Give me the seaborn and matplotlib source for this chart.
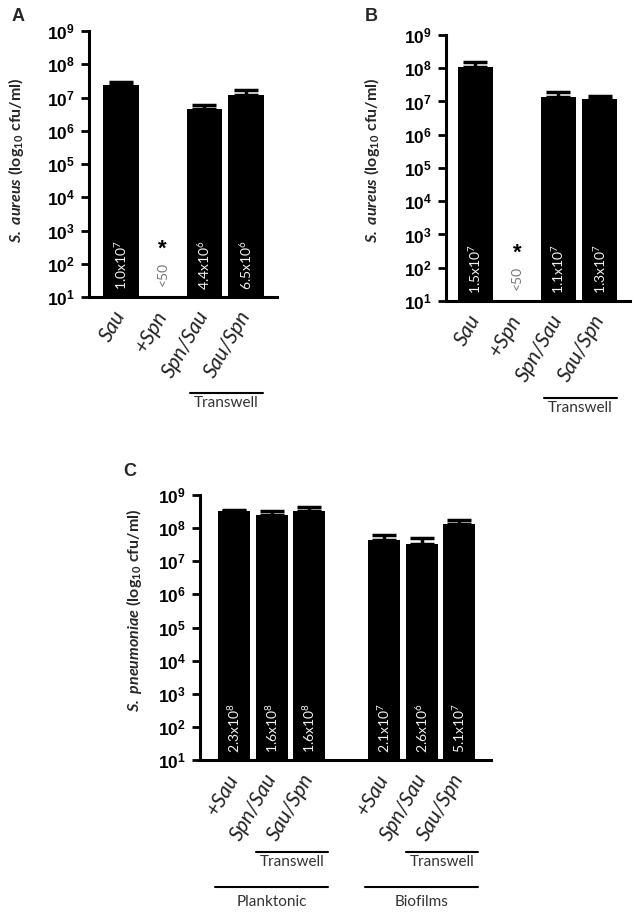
import numpy as np
import pandas as pd
import seaborn as sns
import matplotlib.pyplot as plt
from matplotlib.ticker import NullLocator
from matplotlib.transforms import blended_transform_factory

# Panel A - S. aureus counts (planktonic)
a_labels = ["Sau", "+Spn", "Spn/Sau", "Sau/Spn"]
a_values = [2.3e7, np.nan, 4.6e6, 1.15e7]
a_upper = [3.0e7, np.nan, 6.0e6, 1.7e7]
a_notes = ["1.0x$10^{7}$", "<50", "4.4x$10^{6}$", "6.5x$10^{6}$"]

# Panel B - S. aureus counts
b_labels = ["Sau", "+Spn", "Spn/Sau", "Sau/Spn"]
b_values = [1.07e8, np.nan, 1.4e7, 1.2e7]
b_upper = [1.55e8, np.nan, 1.95e7, 1.5e7]
b_notes = ["1.5x$10^{7}$", "<50", "1.1x$10^{7}$", "1.3x$10^{7}$"]

# Panel C - S. pneumoniae counts, planktonic and biofilms
c_groups = ["Planktonic", "Planktonic", "Planktonic", "Biofilms", "Biofilms", "Biofilms"]
c_labels = ["+Sau", "Spn/Sau", "Sau/Spn", "+Sau", "Spn/Sau", "Sau/Spn"]
c_values = [3.3e8, 2.5e8, 3.2e8, 4.3e7, 3.3e7, 1.3e8]
c_upper = [3.6e8, 3.3e8, 4.2e8, 6.0e7, 5.0e7, 1.8e8]
c_notes = ["2.3x$10^{8}$", "1.6x$10^{8}$", "1.6x$10^{8}$", "2.1x$10^{7}$", "2.6x$10^{6}$", "5.1x$10^{7}$"]

decades = [10 ** k for k in range(1, 10)]

sns.set_style("ticks")
plt.rcParams["mathtext.fontset"] = "custom"
plt.rcParams["mathtext.rm"] = "Lato"
plt.rcParams["mathtext.it"] = "Lato:italic"
plt.rcParams["mathtext.bf"] = "Lato:bold"
plt.rcParams["mathtext.bfit"] = "Lato:italic:bold"
plt.rcParams["mathtext.sf"] = "Liberation Sans:bold"
plt.rcParams["font.family"] = ["Lato", "DejaVu Sans"]

W, H = 640, 922
fig = plt.figure(figsize=(W / 100, H / 100), dpi=100)


def px_axes(left, top, right, bottom):
    return fig.add_axes([left / W, 1 - bottom / H, (right - left) / W, (bottom - top) / H])


def bar_panel(ax, keys, order, values, upper, notes, ticklabels):
    df = pd.DataFrame({"key": keys, "cfu": values}).dropna()
    ax.set_yscale("log")
    sns.barplot(data=df, x="key", y="cfu", order=order, color="black", saturation=1,
                width=0.85, errorbar=None, linewidth=0, ax=ax)
    pos = [order.index(k) for k in keys]
    trans = blended_transform_factory(ax.transData, ax.transAxes)
    for x, v, u, note in zip(pos, values, upper, notes):
        if np.isnan(v):
            ax.text(x, 0.04, note, transform=trans, rotation=90, ha="center", va="bottom",
                    color="#777777", fontsize=10)
            ax.text(x, 0.18, "*", transform=trans, ha="center", va="center",
                    color="black", fontsize=16, fontweight="bold", family="Liberation Sans")
            continue
        ax.errorbar([x], [v], yerr=[[0], [u - v]], fmt="none", ecolor="black",
                    elinewidth=2.5, capsize=8.5, capthick=2.5)
        ax.text(x, 0.025, note, transform=trans, rotation=90, ha="center", va="bottom",
                color="#f2f2f2", fontsize=10)
    ax.set_ylim(10, 1e9)
    ax.set_yticks(decades)
    ax.set_yticklabels([rf"$\mathsf{{10^{{{k}}}}}$" for k in range(1, 10)])
    ax.yaxis.set_minor_locator(NullLocator())
    ax.set_xticks(pos)
    ax.set_xticklabels(ticklabels, rotation=60, ha="right", va="center",
                       rotation_mode="anchor", fontstyle="italic", fontsize=15, color="#222222")
    ax.tick_params(axis="x", length=0, pad=11)
    ax.tick_params(axis="y", length=6, width=2, pad=4, labelsize=12.5, colors="black")
    ax.set_xlabel("")
    ax.set_ylabel("")
    for side in ["left", "bottom"]:
        ax.spines[side].set_linewidth(2.2)
        ax.spines[side].set_color("black")
    sns.despine(ax=ax)
    return pos, trans


def bracket(ax, trans, x0, x1, y, text, gap):
    ax.plot([x0, x1], [y, y], transform=trans, color="black", lw=1.5, clip_on=False)
    ax.text((x0 + x1) / 2, y - gap, text, transform=trans, ha="center", va="top",
            fontsize=11, color="#333333")


# ---- A ----
ax_a = px_axes(89, 31, 277, 297)
pos_a, tr_a = bar_panel(ax_a, a_labels, a_labels, a_values, a_upper, a_notes, a_labels)
ax_a.set_xlim(-0.77, 3.74)
bracket(ax_a, tr_a, pos_a[2] - 0.35, pos_a[3] + 0.41, -0.36, "Transwell", 0.012)

# ---- B ----
ax_b = px_axes(446, 35, 630, 301)
pos_b, tr_b = bar_panel(ax_b, b_labels, b_labels, b_values, b_upper, b_notes, b_labels)
ax_b.set_xlim(-0.71, 3.73)
bracket(ax_b, tr_b, pos_b[2] - 0.35, pos_b[3] + 0.41, -0.365, "Transwell", 0.012)

# ---- C ----
c_keys = [g + " " + l for g, l in zip(c_groups, c_labels)]
c_order = c_keys[:3] + ["gap"] + c_keys[3:]
ax_c = px_axes(200, 495, 491, 760)
pos_c, tr_c = bar_panel(ax_c, c_keys, c_order, c_values, c_upper, c_notes, c_labels)
ax_c.set_xlim(-0.91, 6.85)
for grp in ["Planktonic", "Biofilms"]:
    idx = [p for p, g in zip(pos_c, c_groups) if g == grp]
    bracket(ax_c, tr_c, idx[1] - 0.42, idx[2] + 0.5, -0.347, "Transwell", 0.012)
    bracket(ax_c, tr_c, idx[0] - 0.5, idx[2] + 0.5, -0.479, grp, 0.03)

# axis titles
ylab_sa = r"$\mathbfit{S.\ aureus}\ \mathbf{(log_{10}\ cfu/ml)}$"
ylab_sp = r"$\mathbfit{S.\ pneumoniae}\ \mathbf{(log_{10}\ cfu/ml)}$"
fig.text(16 / W, 1 - 160 / H, ylab_sa, rotation=90, ha="center", va="center", fontsize=11.5)
fig.text(372 / W, 1 - 160 / H, ylab_sa, rotation=90, ha="center", va="center", fontsize=11.5)
fig.text(134 / W, 1 - 610 / H, ylab_sp, rotation=90, ha="center", va="center", fontsize=11.5)

# panel letters
for letter, x, y in [("A", 12, 8), ("B", 365, 8), ("C", 123, 463)]:
    fig.text(x / W, 1 - y / H, letter, ha="left", va="top", fontsize=13,
             fontweight="bold", family="Liberation Sans")

plt.savefig("out.png", dpi=100)
